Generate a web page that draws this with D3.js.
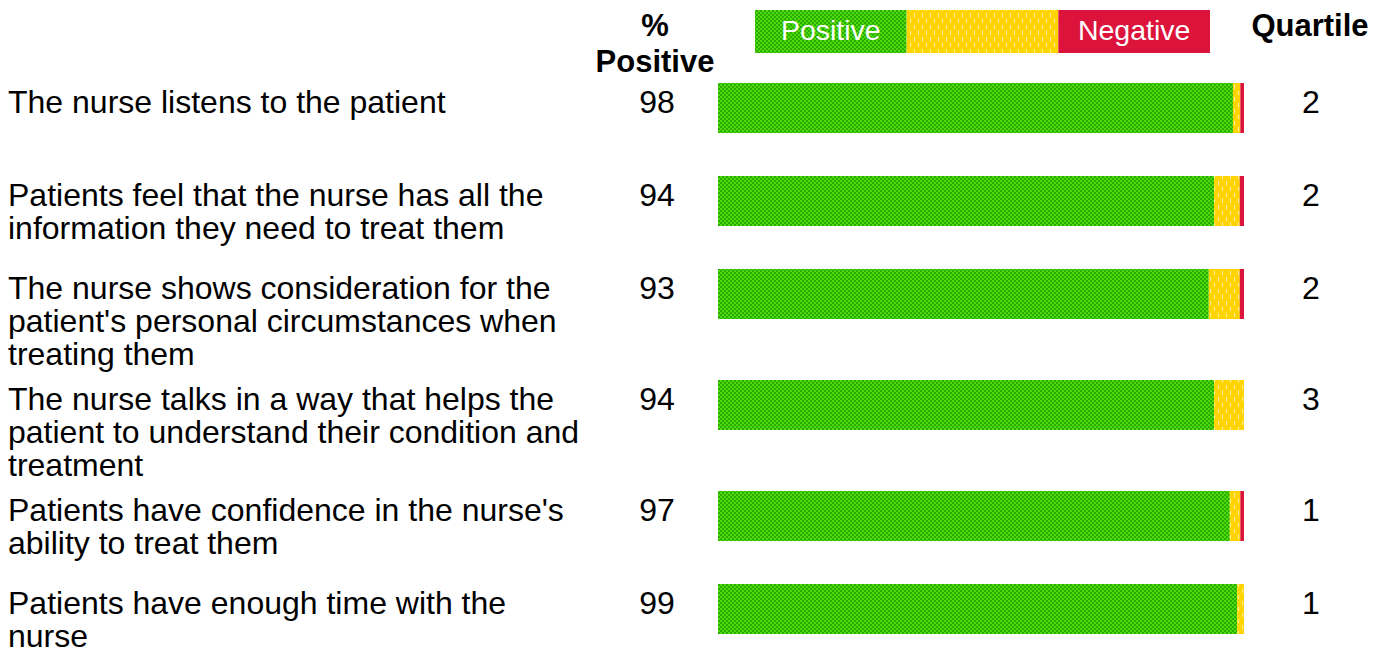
<!DOCTYPE html>
<html>
<head>
<meta charset="utf-8">
<script src="https://cdn.jsdelivr.net/npm/d3@7"></script>
<style>
    body { margin: 0; background: #fff; }
    svg { display: block; font-family: 'Liberation Sans', Arial, sans-serif; }
</style>
</head>
<body>
<div id="chart"></div>
<script>
// Survey questions (one per row)
const questions = [
    "The nurse listens to the patient",
    "Patients feel that the nurse has all the information they need to treat them",
    "The nurse shows consideration for the patient's personal circumstances when treating them",
    "The nurse talks in a way that helps the patient to understand their condition and treatment",
    "Patients have confidence in the nurse's ability to treat them",
    "Patients have enough time with the nurse"
];

// Share of answers per question (%)
const positive = [97.9, 94.3, 93.3, 94.3, 97.3, 98.7];
const neutral  = [1.4, 4.9, 5.9, 5.7, 2.0, 1.3];
const negative = [0.7, 0.8, 0.8, 0.0, 0.7, 0.0];

// Reported columns
const pctPositive = [98, 94, 93, 94, 97, 99];
const quartiles = [2, 2, 2, 3, 1, 1];

const legendKeys = ["Positive", "Neutral", "Negative"];
const legendLabels = ["Positive", "", "Negative"];

const width = 1387;
const height = 650;
const lineHeight = 33;

const svg = d3.select('#chart')
    .append('svg')
    .attr('width', width)
    .attr('height', height);

// Hatched fills like the original report
const defs = svg.append('defs');

const green = defs.append('pattern')
    .attr('id', 'pat-positive')
    .attr('patternUnits', 'userSpaceOnUse')
    .attr('width', 4).attr('height', 4);
green.append('rect').attr('width', 4).attr('height', 4).attr('fill', '#2aab00');
green.append('rect').attr('width', 2).attr('height', 2).attr('fill', '#4fdb0a');
green.append('rect').attr('x', 2).attr('y', 2).attr('width', 2).attr('height', 2).attr('fill', '#4fdb0a');

const yellow = defs.append('pattern')
    .attr('id', 'pat-neutral')
    .attr('patternUnits', 'userSpaceOnUse')
    .attr('width', 8).attr('height', 12);
yellow.append('rect').attr('width', 8).attr('height', 12).attr('fill', '#ffd400');
yellow.append('rect').attr('x', 2).attr('y', 1).attr('width', 1).attr('height', 4).attr('fill', '#fff0a8');
yellow.append('rect').attr('x', 6).attr('y', 7).attr('width', 1).attr('height', 4).attr('fill', '#fff0a8');

const fills = {
    Positive: 'url(#pat-positive)',
    Neutral: 'url(#pat-neutral)',
    Negative: '#dc143c'
};

// Bar scale
const x = d3.scaleLinear()
    .domain([0, 100])
    .range([718, 1244]);

// Wrap question text into lines no wider than maxWidth
function wrapText(str, maxWidth, fontSize) {
    const probe = svg.append('text').style('font-size', fontSize + 'px');
    const words = str.split(' ');
    const lines = [];
    let current = '';
    words.forEach(w => {
        const test = current ? current + ' ' + w : w;
        probe.text(test);
        if (probe.node().getComputedTextLength() > maxWidth && current) {
            lines.push(current);
            current = w;
        } else {
            current = test;
        }
    });
    if (current) lines.push(current);
    probe.remove();
    return lines;
}

const rows = questions.map((q, i) => ({
    question: q,
    lines: wrapText(q, 586, 32),
    positive: positive[i],
    neutral: neutral[i],
    negative: negative[i],
    pct: pctPositive[i],
    quartile: quartiles[i]
}));

// Row heights grow with the number of label lines
let yCursor = 83;
rows.forEach(r => {
    r.top = yCursor;
    yCursor += Math.max(93, r.lines.length * lineHeight + 12);
});

const barHeight = 50;

// Headers
svg.append('text')
    .attr('x', 655)
    .attr('y', 36)
    .attr('text-anchor', 'middle')
    .style('font-size', '31px')
    .style('font-weight', 'bold')
    .text('%');

svg.append('text')
    .attr('x', 655)
    .attr('y', 72)
    .attr('text-anchor', 'middle')
    .style('font-size', '31px')
    .style('font-weight', 'bold')
    .text('Positive');

svg.append('text')
    .attr('x', 1310)
    .attr('y', 36)
    .attr('text-anchor', 'middle')
    .style('font-size', '31px')
    .style('font-weight', 'bold')
    .text('Quartile');

// Legend
const legendX = d3.scaleBand()
    .domain(legendKeys)
    .range([755, 1210]);

const legend = svg.append('g');

legend.selectAll('rect')
    .data(legendKeys)
    .enter()
    .append('rect')
    .attr('x', d => legendX(d))
    .attr('y', 10)
    .attr('width', legendX.bandwidth())
    .attr('height', 43)
    .attr('fill', d => fills[d]);

legend.selectAll('text')
    .data(legendKeys)
    .enter()
    .append('text')
    .attr('x', d => legendX(d) + legendX.bandwidth() / 2)
    .attr('y', 40)
    .attr('text-anchor', 'middle')
    .style('font-size', '28.5px')
    .style('fill', '#fff')
    .text((d, i) => legendLabels[i]);

// Rows
const row = svg.selectAll('.row')
    .data(rows)
    .enter()
    .append('g')
    .attr('class', 'row');

row.append('text')
    .attr('x', 8)
    .attr('y', d => d.top + 30)
    .style('font-size', '32px')
    .style('fill', '#000')
    .selectAll('tspan')
    .data(d => d.lines)
    .enter()
    .append('tspan')
    .attr('x', 8)
    .attr('dy', (d, i) => i === 0 ? 0 : lineHeight)
    .text(d => d);

row.append('text')
    .attr('x', 657)
    .attr('y', d => d.top + 30)
    .attr('text-anchor', 'middle')
    .style('font-size', '32px')
    .text(d => d.pct);

row.append('text')
    .attr('x', 1311)
    .attr('y', d => d.top + 30)
    .attr('text-anchor', 'middle')
    .style('font-size', '32px')
    .text(d => d.quartile);

// Stacked segments
row.each(function(d) {
    const segs = [
        { key: 'Positive', start: 0, end: d.positive },
        { key: 'Neutral', start: d.positive, end: d.positive + d.neutral },
        { key: 'Negative', start: d.positive + d.neutral, end: d.positive + d.neutral + d.negative }
    ].filter(s => s.end > s.start);

    d3.select(this).selectAll('rect')
        .data(segs)
        .enter()
        .append('rect')
        .attr('x', s => x(s.start))
        .attr('y', d.top)
        .attr('width', s => x(s.end) - x(s.start))
        .attr('height', barHeight)
        .attr('fill', s => fills[s.key]);
});
</script>
</body>
</html>
